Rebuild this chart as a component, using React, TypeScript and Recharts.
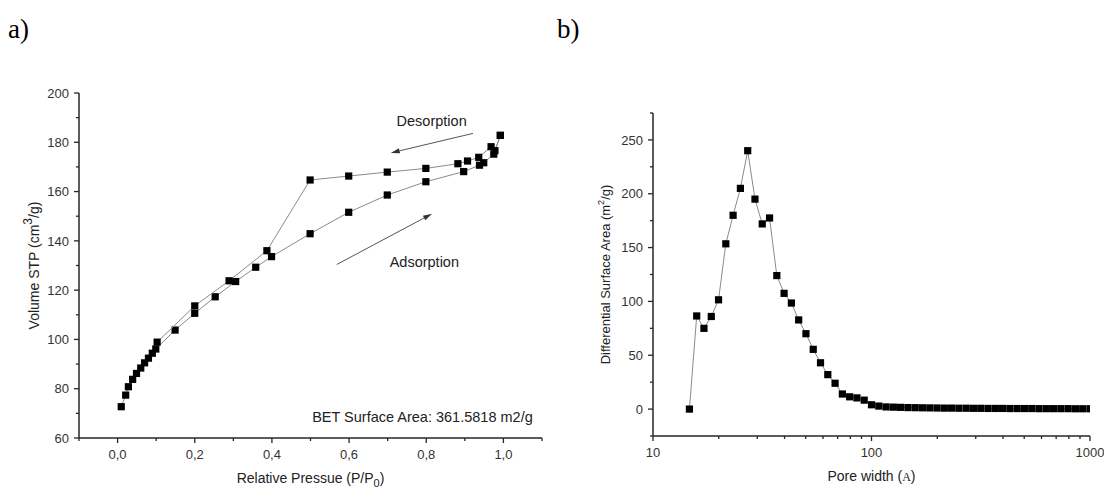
import React from 'react';
import { ScatterChart, Scatter, XAxis, YAxis, ReferenceLine, ReferenceDot, Label } from 'recharts';

// ---------- Panel a) : N2 isotherm ----------
const adsP = [0.0095, 0.021, 0.028, 0.039, 0.049, 0.06, 0.07, 0.08, 0.09, 0.099, 0.149, 0.2, 0.253, 0.306, 0.358, 0.399, 0.499, 0.599, 0.699, 0.799, 0.897, 0.938, 0.949, 0.975, 0.992];
const adsV = [72.7, 77.4, 80.8, 83.8, 86.2, 88.4, 90.5, 92.4, 94.4, 96.1, 103.8, 110.6, 117.3, 123.5, 129.3, 133.6, 142.9, 151.6, 158.6, 164.0, 168.1, 170.7, 171.7, 175.2, 182.8];
const desP = [0.992, 0.978, 0.968, 0.936, 0.907, 0.882, 0.799, 0.699, 0.599, 0.499, 0.387, 0.289, 0.2, 0.1025];
const desV = [182.8, 176.6, 178.2, 173.9, 172.4, 171.3, 169.4, 167.9, 166.3, 164.7, 136.0, 123.8, 113.6, 98.9];

const xTicksA = [-0.1, 0, 0.1, 0.2, 0.3, 0.4, 0.5, 0.6, 0.7, 0.8, 0.9, 1.0, 1.1];
const yTicksA = [60, 70, 80, 90, 100, 110, 120, 130, 140, 150, 160, 170, 180, 190, 200];

const desArrow = [{ x: 0.921, y: 183.6 }, { x: 0.708, y: 175.7 }];
const adsArrow = [{ x: 0.568, y: 130.4 }, { x: 0.815, y: 151.0 }];
const desLabelPos = { x: 0.814, y: 188.6 };
const adsLabelPos = { x: 0.795, y: 131.5 };
const betLabelPos = { x: 1.076, y: 68.6 };

// ---------- Panel b) : pore size distribution ----------
const poreWidth = [14.68, 15.85, 17.11, 18.48, 19.95, 21.54, 23.26, 25.12, 27.13, 29.29, 31.62, 34.15, 36.87, 39.81, 42.99, 46.42, 50.12, 54.12, 58.43, 63.10, 68.13, 73.56, 79.43, 85.77, 92.61, 100.0, 108.0, 116.6, 125.9, 135.9, 146.8, 158.5, 171.1, 184.8, 199.5, 215.4, 232.6, 251.2, 271.3, 292.9, 316.2, 341.5, 368.7, 398.1, 429.9, 464.2, 501.2, 541.2, 584.3, 631.0, 681.3, 735.6, 794.3, 857.7, 926.1, 1000];
const diffArea = [0, 86.5, 75, 86, 101.5, 153.5, 180, 205, 240, 195, 172, 177.5, 124, 107.5, 98.5, 82.8, 70, 55.5, 43, 32, 24, 14, 11.4, 10.4, 8.3, 4, 2.8, 2.0, 1.8, 1.6, 1.4, 1.3, 1.2, 1.1, 1.0, 0.9, 0.9, 0.8, 0.8, 0.7, 0.7, 0.6, 0.6, 0.6, 0.5, 0.5, 0.5, 0.5, 0.4, 0.4, 0.4, 0.4, 0.4, 0.3, 0.3, 0.3];

const xTicksB = [10, 20, 30, 40, 50, 60, 70, 80, 90, 100, 200, 300, 400, 500, 600, 700, 800, 900, 1000];
const yTicksB = [-25, 0, 25, 50, 75, 100, 125, 150, 175, 200, 225, 250, 275];

const adsData = adsP.map((x, i) => ({ x, y: adsV[i] }));
const desData = desP.map((x, i) => ({ x, y: desV[i] }));
const poreData = poreWidth.map((x, i) => ({ x, y: diffArea[i] }));

const FONT = '"Liberation Sans", Arial, Helvetica, sans-serif';
const AXIS = '#262626';
const TXT = '#333';

const Square = (p: any) => {
  if (p.cx == null || p.cy == null) return <g />;
  return <rect x={p.cx - 3.6} y={p.cy - 3.6} width={7.2} height={7.2} fill="#000" />;
};

function makeTick(kind: 'x' | 'y', isMajor: (v: number) => boolean, fmt: (v: number) => string) {
  return (props: any) => {
    const { x, y, payload } = props;
    const v = payload.value;
    const major = isMajor(v);
    const len = major ? 5 : 3;
    if (kind === 'x') {
      return (
        <g>
          <line x1={x} y1={y} x2={x} y2={y + len} stroke={AXIS} strokeWidth={1.3} />
          {major && (
            <text x={x} y={y + 21} textAnchor="middle" fontSize={13} fill={TXT} fontFamily={FONT}>
              {fmt(v)}
            </text>
          )}
        </g>
      );
    }
    return (
      <g>
        <line x1={x} y1={y} x2={x - len} y2={y} stroke={AXIS} strokeWidth={1.3} />
        {major && (
          <text x={x - 10} y={y} dy="0.36em" textAnchor="end" fontSize={13} fill={TXT} fontFamily={FONT}>
            {fmt(v)}
          </text>
        )}
      </g>
    );
  };
}

const Arrow = (p: any) => {
  const { x1, y1, x2, y2 } = p;
  if ([x1, y1, x2, y2].some((v) => v == null || isNaN(v))) return <g />;
  const dx = x2 - x1;
  const dy = y2 - y1;
  const L = Math.sqrt(dx * dx + dy * dy) || 1;
  const ux = dx / L;
  const uy = dy / L;
  const hl = 9;
  const hw = 2.6;
  const bx = x2 - ux * hl;
  const by = y2 - uy * hl;
  const pts = `${x2},${y2} ${bx - uy * hw},${by + ux * hw} ${bx + uy * hw},${by - ux * hw}`;
  return (
    <g>
      <line x1={x1} y1={y1} x2={bx} y2={by} stroke="#555" strokeWidth={1} />
      <polygon points={pts} fill="#333" />
    </g>
  );
};

const textLabel = (value: string, anchor: 'middle' | 'end', size = 14.5) => (p: any) => {
  const vb = p.viewBox || {};
  return (
    <text x={vb.x} y={vb.y} dy="0.36em" textAnchor={anchor} fontSize={size} fill="#222" fontFamily={FONT}>
      {value}
    </text>
  );
};

const fmtComma = (v: number) => v.toFixed(1).replace('.', ',');

export default function App() {
  return (
    <div
      style={{
        position: 'absolute',
        left: 0,
        top: 0,
        width: 1104,
        height: 491,
        background: '#fff',
        fontFamily: FONT,
        overflow: 'hidden',
      }}
    >
      <div style={{ position: 'absolute', left: 8, top: 14, fontFamily: '"Liberation Serif", "Times New Roman", serif', fontSize: 27, color: '#000', lineHeight: '30px' }}>a)</div>
      <div style={{ position: 'absolute', left: 557, top: 14, fontFamily: '"Liberation Serif", "Times New Roman", serif', fontSize: 27, color: '#000', lineHeight: '30px' }}>b)</div>

      <div style={{ position: 'absolute', left: 0, top: 0 }}>
        <ScatterChart width={560} height={491} margin={{ top: 93, right: 18, bottom: 23, left: 0 }}>
          <XAxis
            type="number"
            dataKey="x"
            domain={[-0.1, 1.1]}
            ticks={xTicksA}
            interval={0}
            allowDataOverflow
            height={30}
            tickSize={0}
            tickMargin={0}
            tickLine={false}
            axisLine={{ stroke: AXIS, strokeWidth: 1.5 }}
            tick={makeTick('x', (v) => v >= -0.001 && v <= 1.001 && Math.round(v * 10) % 2 === 0, fmtComma)}
          >
            <Label
              content={(p: any) => {
                const vb = p.viewBox;
                return (
                  <text x={vb.x + vb.width / 2} y={vb.y + 45} textAnchor="middle" fontSize={14} fill="#222" fontFamily={FONT}>
                    Relative Pressue (P/P
                    <tspan dy={4} fontSize={11}>0</tspan>
                    <tspan dy={-4}>)</tspan>
                  </text>
                );
              }}
            />
          </XAxis>
          <YAxis
            type="number"
            dataKey="y"
            domain={[60, 200]}
            ticks={yTicksA}
            interval={0}
            allowDataOverflow
            width={79}
            tickSize={0}
            tickMargin={0}
            tickLine={false}
            axisLine={{ stroke: AXIS, strokeWidth: 1.5 }}
            tick={makeTick('y', (v) => v % 20 === 0, (v) => String(v))}
          >
            <Label
              content={(p: any) => {
                const vb = p.viewBox;
                const cx = vb.x + 34;
                const cy = vb.y + vb.height / 2;
                return (
                  <text x={cx} y={cy} dy="0.36em" textAnchor="middle" fontSize={14} fill="#222" fontFamily={FONT} transform={`rotate(-90, ${cx}, ${cy})`}>
                    Volume STP (cm
                    <tspan dy={-7} fontSize={12}>3</tspan>
                    <tspan dy={7}>/g)</tspan>
                  </text>
                );
              }}
            />
          </YAxis>
          <ReferenceLine segment={desArrow} shape={Arrow} ifOverflow="visible" />
          <ReferenceLine segment={adsArrow} shape={Arrow} ifOverflow="visible" />
          <ReferenceDot x={desLabelPos.x} y={desLabelPos.y} r={0} stroke="none" fill="none" ifOverflow="visible" label={{ content: textLabel('Desorption', 'middle') }} />
          <ReferenceDot x={adsLabelPos.x} y={adsLabelPos.y} r={0} stroke="none" fill="none" ifOverflow="visible" label={{ content: textLabel('Adsorption', 'middle') }} />
          <ReferenceDot x={betLabelPos.x} y={betLabelPos.y} r={0} stroke="none" fill="none" ifOverflow="visible" label={{ content: textLabel('BET Surface Area: 361.5818 m2/g', 'end', 14.5) }} />
          <Scatter data={adsData} line={{ stroke: '#8a8a8a', strokeWidth: 1 }} lineJointType="linear" shape={Square} isAnimationActive={false} />
          <Scatter data={desData} line={{ stroke: '#8a8a8a', strokeWidth: 1 }} lineJointType="linear" shape={Square} isAnimationActive={false} />
        </ScatterChart>
      </div>

      <div style={{ position: 'absolute', left: 560, top: 0 }}>
        <ScatterChart width={544} height={491} margin={{ top: 113, right: 14, bottom: 25, left: 0 }}>
          <XAxis
            type="number"
            dataKey="x"
            scale="log"
            domain={[10, 1000]}
            ticks={xTicksB}
            interval={0}
            allowDataOverflow
            height={30}
            tickSize={0}
            tickMargin={0}
            tickLine={false}
            axisLine={{ stroke: AXIS, strokeWidth: 1.5 }}
            tick={makeTick('x', (v) => v === 10 || v === 100 || v === 1000, (v) => String(v))}
          >
            <Label
              content={(p: any) => {
                const vb = p.viewBox;
                return (
                  <text x={vb.x + vb.width / 2} y={vb.y + 45} textAnchor="middle" fontSize={14} fill="#222" fontFamily={FONT}>
                    Pore width (
                    <tspan fontFamily={'"Liberation Serif", "Times New Roman", serif'} fontSize={12}>A</tspan>
                    )
                  </text>
                );
              }}
            />
          </XAxis>
          <YAxis
            type="number"
            dataKey="y"
            domain={[-25, 275]}
            ticks={yTicksB}
            interval={0}
            allowDataOverflow
            width={93}
            tickSize={0}
            tickMargin={0}
            tickLine={false}
            axisLine={{ stroke: AXIS, strokeWidth: 1.5 }}
            tick={makeTick('y', (v) => v % 50 === 0, (v) => String(v))}
          >
            <Label
              content={(p: any) => {
                const vb = p.viewBox;
                const cx = vb.x + 45.5;
                const cy = vb.y + vb.height / 2;
                return (
                  <text x={cx} y={cy} dy="0.36em" textAnchor="middle" fontSize={13} fill="#222" fontFamily={FONT} transform={`rotate(-90, ${cx}, ${cy})`}>
                    Differential Surface Area (m
                    <tspan dy={-6} fontSize={9}>2</tspan>
                    <tspan dy={6}>/g)</tspan>
                  </text>
                );
              }}
            />
          </YAxis>
          <Scatter data={poreData} line={{ stroke: '#8a8a8a', strokeWidth: 1 }} lineJointType="linear" shape={Square} isAnimationActive={false} />
        </ScatterChart>
      </div>
    </div>
  );
}
